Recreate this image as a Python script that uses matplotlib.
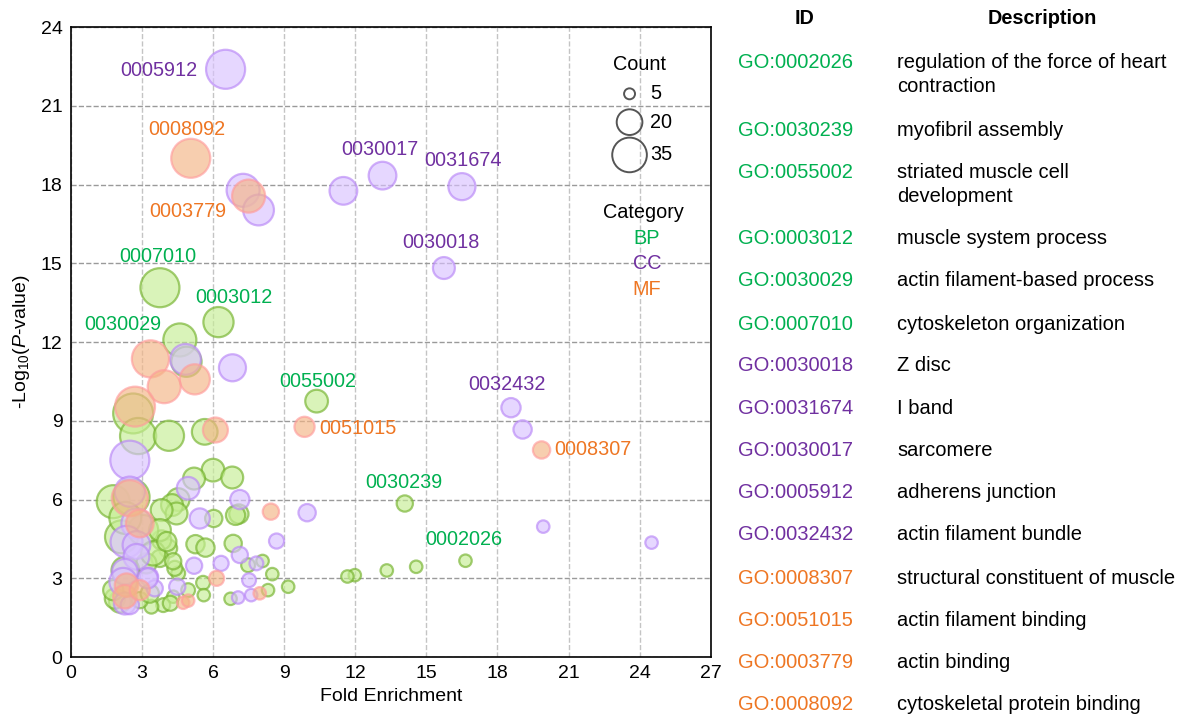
import matplotlib
matplotlib.use("Agg")
import matplotlib.pyplot as plt
import numpy as np

plt.rcParams['font.family'] = ['Liberation Sans', 'DejaVu Sans']
plt.rcParams['mathtext.fontset'] = 'custom'
plt.rcParams['mathtext.rm'] = 'Liberation Sans'
plt.rcParams['mathtext.it'] = 'Liberation Sans:italic'

# --- data: fold enrichment, -log10 p, gene count ---
bp_fold = [3.76, 6.23, 4.6, 10.37, 14.09, 16.65, 14.57, 13.33, 11.98, 11.67,
           4.88, 2.63, 2.84, 4.14, 5.65, 6.0, 6.81, 5.2, 4.53, 4.27,
           4.46, 3.83, 7.09, 6.95, 6.03, 6.85, 5.26, 5.68, 7.48, 8.09,
           8.5, 9.17, 5.58, 5.61, 8.32, 6.74, 4.32, 3.9, 4.53, 4.39,
           4.1, 3.76, 3.83, 3.19, 3.4, 2.91, 1.79, 2.56, 2.14, 3.05,
           3.76, 3.47, 2.07, 1.86, 3.33, 1.79, 4.95, 2.3, 2.3, 4.32,
           4.05, 4.2]
bp_logp = [14.07, 12.76, 12.08, 9.75, 5.85, 3.67, 3.44, 3.30, 3.12, 3.07,
           11.25, 9.28, 8.42, 8.43, 8.58, 7.12, 6.84, 6.8, 6.0, 5.79,
           5.47, 5.6, 5.45, 5.4, 5.28, 4.33, 4.3, 4.17, 3.5, 3.66,
           3.16, 2.68, 2.83, 2.36, 2.55, 2.22, 2.3, 1.98, 3.19, 3.38,
           4.14, 3.76, 4.46, 3.57, 1.92, 2.17, 5.92, 6.1, 4.58, 4.84,
           4.84, 3.95, 2.11, 2.23, 2.42, 2.55, 2.55, 3.3, 5.3, 3.65,
           4.4, 2.05]
bp_count = [44, 27, 32, 16, 9, 6, 6, 6, 6, 6,
            27, 46, 38, 27, 20, 16, 15, 15, 16, 15,
            15, 15, 12, 12, 10, 10, 11, 11, 7, 6,
            6, 6, 7, 6, 6, 6, 6, 7, 7, 8,
            11, 10, 12, 13, 7, 9, 32, 38, 32, 27,
            15, 18, 15, 13, 11, 13, 7, 23, 30, 9,
            12, 8]

cc_fold = [6.53, 7.27, 7.92, 11.5, 13.15, 16.5, 15.74, 18.57, 19.06, 9.97,
           19.93, 24.5, 4.84, 6.82, 2.49, 4.95, 7.13, 5.44, 8.68, 7.13,
           5.2, 6.34, 7.83, 7.52, 7.61, 7.06, 4.49, 3.3, 3.54, 2.49,
           2.77, 2.35, 2.77, 2.77, 2.28, 2.21, 2.28, 2.49, 3.24]
cc_logp = [22.39, 17.78, 17.03, 17.76, 18.34, 17.92, 14.82, 9.5, 8.67, 5.5,
           4.97, 4.36, 11.34, 11.02, 7.5, 6.43, 6.0, 5.28, 4.42, 3.89,
           3.48, 3.57, 3.57, 2.93, 2.36, 2.27, 2.68, 3.06, 2.62, 6.3,
           5.09, 4.39, 4.27, 3.82, 3.25, 2.87, 2.04, 1.98, 3.0]
cc_count = [44, 32, 28, 23, 23, 22, 15, 12, 11, 10,
            6, 6, 28, 22, 44, 16, 12, 13, 8, 9,
            9, 8, 7, 7, 6, 6, 9, 11, 9, 27,
            27, 30, 23, 20, 20, 23, 15, 11, 13]

mf_fold = [5.06, 7.5, 9.86, 19.86, 3.36, 5.23, 3.94, 2.71, 6.1, 8.44,
           6.15, 7.97, 4.74, 4.95, 2.49, 2.91, 2.35, 2.28, 2.91]
mf_logp = [19.0, 17.56, 8.77, 7.89, 11.36, 10.58, 10.3, 9.54, 8.65, 5.54,
           3.0, 2.43, 2.07, 2.15, 6.05, 5.09, 2.74, 2.3, 2.55]
mf_count = [44, 32, 13, 10, 40, 27, 32, 46, 19, 9,
            8, 6, 6, 6, 38, 23, 17, 17, 13]

# labelled terms: id suffix, x, y, alignment, category
lab_ids = ['0005912', '0008092', '0003779', '0007010', '0003012', '0030029',
           '0030017', '0031674', '0030018', '0055002', '0051015', '0032432',
           '0008307', '0030239', '0002026']
lab_x = [5.36, 4.89, 4.94, 3.67, 6.9, 2.19, 13.02, 16.54, 15.61, 10.42,
         10.46, 18.38, 20.38, 14.05, 16.6]
lab_y = [22.36, 20.11, 16.99, 15.24, 13.71, 12.65, 19.35, 18.93, 15.81, 10.51,
         8.72, 10.4, 7.89, 6.64, 4.46]
lab_ha = ['right', 'center', 'center', 'center', 'center', 'center',
          'center', 'center', 'center', 'center', 'left', 'center',
          'left', 'center', 'center']
lab_cat = ['CC', 'MF', 'MF', 'BP', 'BP', 'BP', 'CC', 'CC', 'CC', 'BP',
           'MF', 'CC', 'MF', 'BP', 'BP']

table_ids = ['GO:0002026', 'GO:0030239', 'GO:0055002', 'GO:0003012', 'GO:0030029',
             'GO:0007010', 'GO:0030018', 'GO:0031674', 'GO:0030017', 'GO:0005912',
             'GO:0032432', 'GO:0008307', 'GO:0051015', 'GO:0003779', 'GO:0008092']
table_desc = ['regulation of the force of heart\ncontraction', 'myofibril assembly',
              'striated muscle cell\ndevelopment', 'muscle system process',
              'actin filament-based process', 'cytoskeleton organization',
              'Z disc', 'I band', 'sarcomere', 'adherens junction',
              'actin filament bundle', 'structural constituent of muscle',
              'actin filament binding', 'actin binding', 'cytoskeletal protein binding']
table_cat = ['BP'] * 6 + ['CC'] * 5 + ['MF'] * 4

text_col = {'BP': '#00b050', 'CC': '#7030a0', 'MF': '#ee7623'}
face_col = {'BP': '#c6ee94', 'CC': '#d9c2ff', 'MF': '#f4b585'}
edge_col = {'BP': '#72b12a', 'CC': '#b886f7', 'MF': '#ff9c9c'}


def bubble(c):
    # diameter in px -> marker area in pt^2 (dpi 100)
    d = np.sqrt(36 * np.asarray(c, dtype=float) - 60)
    return (d * 0.72) ** 2


fig = plt.figure(figsize=(11.8, 7.15), dpi=100)
ax = fig.add_axes([0.060, 0.081, 0.5424, 0.8812])

for cat, xs, ys, cs in [('BP', bp_fold, bp_logp, bp_count),
                        ('CC', cc_fold, cc_logp, cc_count),
                        ('MF', mf_fold, mf_logp, mf_count)]:
    ax.scatter(xs, ys, s=bubble(cs), facecolor=face_col[cat], edgecolor=edge_col[cat],
               linewidth=1.6, alpha=0.65, zorder=3)

for t, x, y, ha, cat in zip(lab_ids, lab_x, lab_y, lab_ha, lab_cat):
    ax.text(x, y, t, ha=ha, va='center', fontsize=14.3, color=text_col[cat], zorder=5)

ax.set_xlim(0, 27)
ax.set_ylim(0, 24)
ax.set_xticks(np.arange(0, 28, 3))
ax.set_yticks(np.arange(0, 25, 3))
ax.tick_params(labelsize=14, length=0, pad=6)
ax.xaxis.grid(True, linestyle='--', color='#c4c4c4', linewidth=1)
ax.yaxis.grid(True, linestyle='--', color='#9a9a9a', linewidth=1)
ax.set_axisbelow(True)
for sp in ax.spines.values():
    sp.set_color('black')
    sp.set_linewidth(1.2)
ax.set_xlabel('Fold Enrichment', fontsize=14, labelpad=4)
ax.set_ylabel('-Log$_{10}$($P$-value)', fontsize=14, labelpad=6)

# size legend
leg_counts = [5, 20, 35]
leg_y = [0.894, 0.849, 0.797]
ax.text(0.889, 0.941, 'Count', transform=ax.transAxes, ha='center', va='center', fontsize=14.3)
ax.scatter([0.873] * 3, leg_y, s=bubble(leg_counts), transform=ax.transAxes,
           facecolor='none', edgecolor='#555555', linewidth=1.4, zorder=6)
for c, y in zip(leg_counts, leg_y):
    ax.text(0.905, y, str(c), transform=ax.transAxes, ha='left', va='center', fontsize=14.3)

# category legend
ax.text(0.894, 0.706, 'Category', transform=ax.transAxes, ha='center', va='center', fontsize=14.3)
for cat, y in zip(['BP', 'CC', 'MF'], [0.665, 0.625, 0.583]):
    ax.text(0.9, y, cat, transform=ax.transAxes, ha='center', va='center',
            fontsize=14.3, color=text_col[cat])

# table on the right
fig.text(805 / 1180, 1 - 18 / 715, 'ID', ha='center', va='center', fontsize=14.3, fontweight='bold')
fig.text(1042 / 1180, 1 - 18 / 715, 'Description', ha='center', va='center',
         fontsize=14.3, fontweight='bold')
row_px = [61, 128, 170, 237, 279, 322, 364, 406, 449, 491, 533, 576, 618, 660, 703]
for gid, desc, cat, py in zip(table_ids, table_desc, table_cat, row_px):
    fig.text(738 / 1180, 1 - py / 715, gid, ha='left', va='center_baseline',
             fontsize=14.5, color=text_col[cat])
    for i, line in enumerate(desc.split('\n')):
        fig.text(897 / 1180, 1 - (py + 24 * i) / 715, line, ha='left',
                 va='center_baseline', fontsize=14.5, color='black')

fig.savefig('out.png', dpi=100)
